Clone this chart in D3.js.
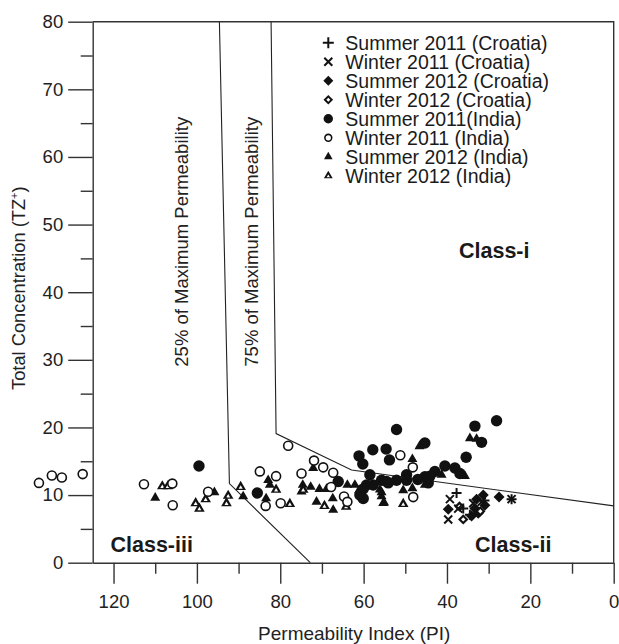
<!DOCTYPE html>
<html>
<head>
<meta charset="utf-8">
<script src="https://cdn.jsdelivr.net/npm/d3@7"></script>
<style>
  html, body { margin: 0; padding: 0; background: #fff; }
  svg { display: block; font-family: "Liberation Sans", Arial, Helvetica, sans-serif; }
</style>
</head>
<body>
<svg id="chart" width="619" height="644"></svg>
<script>
// Permeability Index (PI) vs Total Concentration (TZ+), Doneen-style classes

const seriesNames = [
  "Summer 2011 (Croatia)",
  "Winter 2011 (Croatia)",
  "Summer 2012 (Croatia)",
  "Winter 2012 (Croatia)",
  "Summer 2011(India)",
  "Winter 2011 (India)",
  "Summer 2012 (India)",
  "Winter 2012 (India)"
];
const seriesSymbols = ["plus", "cross", "diamond", "diamondOpen", "circle", "circleOpen", "triangle", "triangleOpen"];

// [PI, TZ] samples per campaign
const summer2011Croatia = [[37.7, 10.3], [36.1, 8.0], [34.5, 7.1], [24.5, 9.4], [31.0, 9.2]];
const winter2011Croatia = [[39.3, 9.4], [39.7, 6.4], [37.3, 8.0], [33.7, 8.8], [31.7, 9.0], [24.5, 9.4]];
const summer2012Croatia = [[39.7, 7.9], [32.9, 9.4], [31.3, 10.0], [33.3, 8.0], [32.5, 7.3], [30.9, 8.5], [34.1, 6.9], [27.5, 9.7]];
const winter2012Croatia = [[36.1, 6.4], [37.0, 8.3], [32.0, 7.6]];
const summer2011India = [
  [99.5, 14.3], [85.5, 10.3], [66.1, 12.0], [61.1, 15.8], [60.2, 14.6], [57.8, 16.7], [54.6, 16.8],
  [53.8, 15.2], [52.1, 19.7], [58.5, 13.0], [57.7, 11.5], [59.3, 11.5], [60.1, 10.9], [55.7, 12.2],
  [54.1, 11.8], [52.1, 12.2], [60.9, 10.0], [60.1, 9.5], [45.3, 17.7], [33.3, 20.2], [28.1, 21.0],
  [31.7, 17.8], [35.4, 15.6], [40.5, 14.3], [38.1, 14.0], [36.9, 13.2], [42.9, 13.5], [44.1, 12.8],
  [49.7, 13.0], [45.3, 12.7], [54.5, 12.0], [44.5, 11.8], [49.7, 12.2], [47.0, 12.3]
];
const winter2011India = [
  [137.9, 11.8], [134.8, 12.9], [132.4, 12.6], [127.4, 13.1], [112.7, 11.6], [105.9, 11.7],
  [105.8, 8.5], [97.3, 10.5], [84.9, 13.5], [81.0, 12.8], [83.5, 8.4], [79.9, 8.8], [78.1, 17.3],
  [74.9, 13.2], [71.9, 15.1], [69.7, 14.1], [67.3, 13.3], [67.8, 11.2], [64.7, 9.8], [63.9, 9.0],
  [51.2, 15.9], [48.2, 14.1], [48.1, 9.7]
];
const summer2012India = [
  [110.0, 9.6], [95.8, 10.4], [88.9, 9.8], [82.9, 12.2], [82.5, 11.5], [83.4, 9.5], [72.1, 14.0],
  [74.6, 11.5], [74.9, 10.5], [72.7, 11.2], [70.6, 10.9], [68.9, 10.9], [66.5, 11.7], [71.3, 9.0],
  [67.4, 9.5], [67.3, 7.8], [63.9, 11.5], [62.1, 11.5], [61.1, 10.7], [56.1, 10.8], [55.7, 9.8],
  [55.1, 8.9], [48.3, 15.3], [46.6, 17.2], [34.5, 18.4], [32.9, 18.3], [41.3, 13.0], [35.7, 12.8],
  [45.3, 11.5], [48.3, 11.0], [50.5, 10.7], [55.7, 10.4], [55.3, 8.8]
];
const winter2012India = [
  [108.3, 11.3], [107.0, 11.3], [100.3, 8.8], [99.4, 8.0], [97.9, 9.4], [92.5, 9.9], [92.9, 8.8],
  [89.5, 11.2], [81.0, 10.8], [77.7, 8.7], [74.5, 10.8], [69.4, 8.4], [64.2, 8.3], [50.5, 8.7]
];
const seriesData = [
  summer2011Croatia, winter2011Croatia, summer2012Croatia, winter2012Croatia,
  summer2011India, winter2011India, summer2012India, winter2012India
];
// paint order (later on top)
const drawOrder = [6, 7, 4, 5, 2, 3, 0, 1];

// class boundary curves [PI, TZ]
const line25 = [[94.6, 80], [92.2, 11.7], [72.8, 0]];
const line75 = [[82.2, 80], [81.0, 19.1], [62.9, 13.7], [0, 8.4]];

const xTicks = [0, 20, 40, 60, 80, 100, 120];
const xMinorTicks = [10, 30, 50, 70, 90, 110];
const yTicks = [0, 10, 20, 30, 40, 50, 60, 70, 80];
const yMinorTicks = [5, 15, 25, 35, 45, 55, 65, 75];

const classLabels = ["Class-i", "Class-ii", "Class-iii"];

(function drawChart() {
  const svg = d3.select("#chart");
  const pLeft = 92.7, pRight = 613.7, pTop = 21.7, pBottom = 562.7;

  const x = d3.scaleLinear().domain([125, 0]).range([pLeft, pRight]);
  const y = d3.scaleLinear().domain([0, 80]).range([pBottom, pTop]);

  const ink = "#111";
  const axisInk = "#333";

  // frame (top and right)
  svg.append("path")
    .attr("d", `M${pLeft},${pTop}H${pRight}V${pBottom}`)
    .attr("fill", "none").attr("stroke", axisInk).attr("stroke-width", 1.4);

  // x axis
  const gx = svg.append("g").attr("transform", `translate(0,${pBottom})`);
  gx.call(d3.axisBottom(x).tickValues(xTicks).tickSize(21).tickPadding(11).tickSizeOuter(0));
  const gxm = svg.append("g").attr("transform", `translate(0,${pBottom})`);
  gxm.call(d3.axisBottom(x).tickValues(xMinorTicks).tickSize(11).tickFormat("").tickSizeOuter(0));
  gxm.select(".domain").remove();

  // y axis
  const gy = svg.append("g").attr("transform", `translate(${pLeft},0)`);
  gy.call(d3.axisLeft(y).tickValues(yTicks).tickSize(24.5).tickPadding(5).tickSizeOuter(0));
  const gym = svg.append("g").attr("transform", `translate(${pLeft},0)`);
  gym.call(d3.axisLeft(y).tickValues(yMinorTicks).tickSize(12).tickFormat("").tickSizeOuter(0));
  gym.select(".domain").remove();

  svg.selectAll(".domain, .tick line").attr("stroke", axisInk).attr("stroke-width", 1.4);
  svg.selectAll(".tick text")
    .attr("font-size", 18.5).attr("fill", "#222")
    .attr("font-family", "'Liberation Sans', Arial, sans-serif");

  // axis titles
  svg.append("text")
    .attr("x", (pLeft + pRight) / 2 + 1).attr("y", 640)
    .attr("text-anchor", "middle").attr("font-size", 19).attr("fill", "#222")
    .text("Permeability Index (PI)");

  const yTitle = svg.append("text")
    .attr("transform", `translate(25,${(pTop + pBottom) / 2 - 4}) rotate(-90)`)
    .attr("text-anchor", "middle").attr("font-size", 18.3).attr("fill", "#222");
  yTitle.append("tspan").text("Total Concentration (TZ");
  yTitle.append("tspan").attr("font-size", 11).attr("dy", -7).text("+");
  yTitle.append("tspan").attr("dy", 7).text(")");

  // class boundaries
  const lineGen = d3.line().x(d => x(d[0])).y(d => y(d[1]));
  [line25, line75].forEach(pts => {
    svg.append("path").attr("d", lineGen(pts))
      .attr("fill", "none").attr("stroke", "#222").attr("stroke-width", 1.1);
  });

  // boundary labels
  svg.append("text")
    .attr("transform", "translate(188,366.7) rotate(-90)")
    .attr("font-size", 18.5).attr("fill", "#222")
    .text("25% of Maximum Permeability");
  svg.append("text")
    .attr("transform", "translate(258,366.7) rotate(-90)")
    .attr("font-size", 18.5).attr("fill", "#222")
    .text("75% of Maximum Permeability");

  // class names
  const classPos = [[459, 258], [475, 552], [110.5, 552]];
  classLabels.forEach((t, i) => {
    svg.append("text")
      .attr("x", classPos[i][0]).attr("y", classPos[i][1])
      .attr("font-size", 21.5).attr("font-weight", "bold").attr("fill", "#1a1a1a")
      .text(t);
  });

  // symbol painter
  function drawSymbol(g, type, s) {
    switch (type) {
      case "plus":
        g.append("path").attr("d", `M${-s},0H${s}M0,${-s}V${s}`)
          .attr("stroke", ink).attr("stroke-width", 2).attr("fill", "none");
        break;
      case "cross": {
        const k = s * 0.8;
        g.append("path").attr("d", `M${-k},${-k}L${k},${k}M${-k},${k}L${k},${-k}`)
          .attr("stroke", ink).attr("stroke-width", 2).attr("fill", "none");
        break;
      }
      case "diamond":
        g.append("path").attr("d", `M0,${-s}L${s},0L0,${s}L${-s},0Z`).attr("fill", ink);
        break;
      case "diamondOpen": {
        g.append("path").attr("d", `M0,${-s}L${s},0L0,${s}L${-s},0Z`).attr("fill", ink);
        const i = s * 0.42;
        g.append("path").attr("d", `M0,${-i}L${i},0L0,${i}L${-i},0Z`).attr("fill", "#fff");
        break;
      }
      case "circle":
        g.append("circle").attr("r", s).attr("fill", ink);
        break;
      case "circleOpen":
        g.append("circle").attr("r", s - 0.8).attr("fill", "#fff").attr("stroke", ink).attr("stroke-width", 1.6);
        break;
      case "triangle": {
        const h = s * 1.732;
        g.append("path").attr("d", `M0,${-h * 2 / 3}L${s},${h / 3}L${-s},${h / 3}Z`).attr("fill", ink);
        break;
      }
      case "triangleOpen": {
        const h = s * 1.732;
        g.append("path").attr("d", `M0,${-h * 2 / 3}L${s},${h / 3}L${-s},${h / 3}Z`).attr("fill", ink);
        const i = s * 0.38, hi = i * 1.732;
        g.append("path").attr("d", `M0,${-hi * 2 / 3 + 0.6}L${i},${hi / 3 + 0.6}L${-i},${hi / 3 + 0.6}Z`).attr("fill", "#fff");
        break;
      }
    }
  }

  const dataSize = { plus: 5, cross: 5, diamond: 5.5, diamondOpen: 5.2, circle: 5.7, circleOpen: 5.3, triangle: 5, triangleOpen: 5.3 };
  const legendSize = { plus: 5.5, cross: 5, diamond: 5, diamondOpen: 4.8, circle: 4.7, circleOpen: 4.2, triangle: 4.3, triangleOpen: 4.4 };

  // points (not clipped: some samples fall left of the frame)
  drawOrder.forEach(si => {
    const type = seriesSymbols[si];
    const g = svg.append("g").attr("class", "series");
    seriesData[si].forEach(d => {
      const p = g.append("g").attr("transform", `translate(${x(d[0])},${y(d[1])})`);
      drawSymbol(p, type, dataSize[type]);
    });
  });

  // legend
  const legend = svg.append("g").attr("transform", "translate(328.3,42.8)");
  seriesNames.forEach((name, i) => {
    const row = legend.append("g").attr("transform", `translate(0,${i * 19})`);
    drawSymbol(row.append("g"), seriesSymbols[i], legendSize[seriesSymbols[i]]);
    row.append("text").attr("x", 17).attr("y", 0).attr("dy", "0.36em")
      .attr("font-size", 19.5).attr("fill", "#1a1a1a").text(name);
  });
})();
</script>
</body>
</html>
